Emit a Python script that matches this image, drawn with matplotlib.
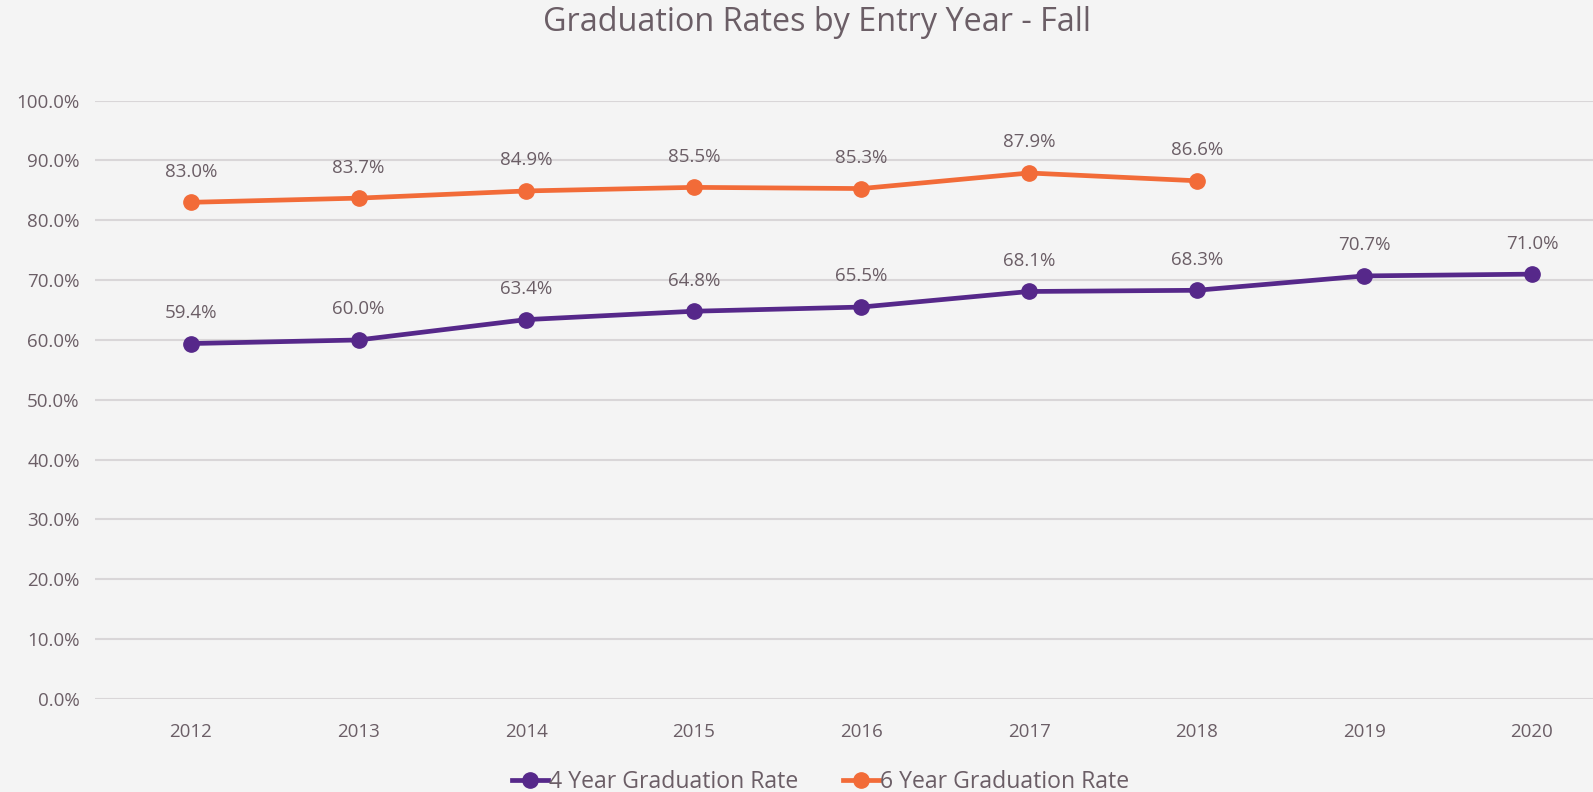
import matplotlib.pyplot as plt
from matplotlib.ticker import FuncFormatter

years = [2012, 2013, 2014, 2015, 2016, 2017, 2018, 2019, 2020]
rate_4yr = [59.4, 60.0, 63.4, 64.8, 65.5, 68.1, 68.3, 70.7, 71.0]
years_6yr = [2012, 2013, 2014, 2015, 2016, 2017, 2018]
rate_6yr = [83.0, 83.7, 84.9, 85.5, 85.3, 87.9, 86.6]

purple = "#56288A"
orange = "#F26B38"
txt = "#6B5E66"
bg = "#F4F4F4"

plt.rcParams['font.family'] = ['Open Sans', 'DejaVu Sans']

fig = plt.figure(figsize=(15.93, 7.92), dpi=100)
fig.patch.set_facecolor(bg)
ax = fig.add_axes([0.0596, 0.1174, 0.9404, 0.7556])
ax.set_facecolor(bg)

ax.plot(years, rate_4yr, color=purple, lw=3.4, marker='o', ms=11,
        label="4 Year Graduation Rate", zorder=3)
ax.plot(years_6yr, rate_6yr, color=orange, lw=3.4, marker='o', ms=11,
        label="6 Year Graduation Rate", zorder=3)

for x, y in zip(years, rate_4yr):
    ax.annotate(f"{y:.1f}%", (x, y), xytext=(0, 22), textcoords='offset points',
                ha='center', va='center', fontsize=13.5, color=txt)
for x, y in zip(years_6yr, rate_6yr):
    ax.annotate(f"{y:.1f}%", (x, y), xytext=(0, 22), textcoords='offset points',
                ha='center', va='center', fontsize=13.5, color=txt)

ax.set_xlim(2012 - 0.573, 2020 + 0.364)
ax.set_ylim(0, 100)
ax.set_yticks(range(0, 101, 10))
ax.yaxis.set_major_formatter(FuncFormatter(lambda v, p: f"{v:.1f}%"))
ax.set_xticks(years)
ax.grid(axis='y', color='#D9D6D8', lw=1.5)
ax.set_axisbelow(True)
for s in ax.spines.values():
    s.set_visible(False)
ax.tick_params(length=0, labelsize=13.5, colors=txt)
ax.tick_params(axis='y', pad=11)
ax.tick_params(axis='x', pad=17)

fig.text(0.513, 0.972, "Graduation Rates by Entry Year - Fall", ha='center', va='center',
         fontsize=23.3, color=txt)

leg = fig.legend(loc='center', bbox_to_anchor=(0.515, 0.013), ncol=2, frameon=False,
                 fontsize=16.6, handlelength=1.55, handletextpad=0.05, columnspacing=1.95,
                 labelcolor=txt, borderpad=0)

fig.savefig("out.png", dpi=100, facecolor=bg)
